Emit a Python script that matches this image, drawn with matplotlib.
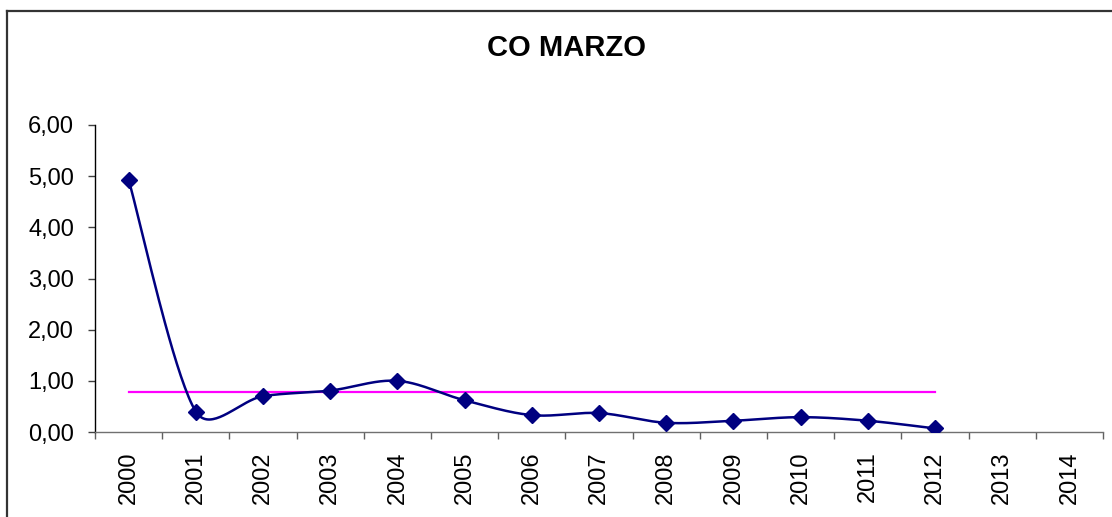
import numpy as np
import matplotlib
matplotlib.use("Agg")
import matplotlib.pyplot as plt
from matplotlib.lines import Line2D

# ---- data ----
years = ["2000", "2001", "2002", "2003", "2004", "2005", "2006", "2007",
         "2008", "2009", "2010", "2011", "2012", "2013", "2014"]
co_values = [4.93, 0.40, 0.70, 0.81, 1.00, 0.62, 0.33, 0.37, 0.18, 0.22, 0.29, 0.22, 0.07]
average = [0.78, 0.78, 0.78, 0.78, 0.78, 0.78, 0.78, 0.78, 0.78, 0.78, 0.78, 0.78, 0.78]
y_ticks = [0, 1, 2, 3, 4, 5, 6]
title = "CO MARZO"

plt.rcParams['font.family'] = ['Liberation Sans', 'DejaVu Sans']

fig = plt.figure(figsize=(11.12, 5.17), dpi=100)
ax = fig.add_axes([95 / 1112, 1 - 432 / 517, (1103 - 95) / 1112, (432 - 125) / 517])

navy = "#000080"
magenta = "#FF00FF"

ax.set_xlim(-0.5, len(years) - 0.5)
ax.set_ylim(0, 6)

x = np.arange(len(co_values))

# magenta average line
ax.plot(x, average, color=magenta, lw=1.6, zorder=2)

# smoothed (Excel-like Bezier) line computed in display space
fig.canvas.draw()
pts = ax.transData.transform(np.column_stack([x, co_values]))
n = len(pts)
curve = [pts[0]]
for i in range(n - 1):
    p0 = pts[i - 1] if i > 0 else pts[i]
    p1 = pts[i]
    p2 = pts[i + 1]
    p3 = pts[i + 2] if i + 2 < n else pts[i + 1]
    seg = np.linalg.norm(p2 - p1)
    c1 = (p2 - p0) / 6.0
    c2 = (p3 - p1) / 6.0
    cap = 0.4 * seg
    l1 = np.linalg.norm(c1)
    l2 = np.linalg.norm(c2)
    if l1 > cap:
        c1 = c1 * cap / l1
    if l2 > cap:
        c2 = c2 * cap / l2
    b1 = p1 + c1
    b2 = p2 - c2
    t = np.linspace(0, 1, 40)[1:, None]
    seg_pts = ((1 - t) ** 3) * p1 + 3 * ((1 - t) ** 2) * t * b1 + 3 * (1 - t) * t ** 2 * b2 + t ** 3 * p2
    curve.extend(seg_pts)
curve = ax.transData.inverted().transform(np.array(curve))
ax.plot(curve[:, 0], curve[:, 1], color=navy, lw=1.8, zorder=3)
ax.plot(x, co_values, linestyle="none", marker="D", markersize=8.5,
        color=navy, zorder=4)

# axes styling
for s in ["top", "right"]:
    ax.spines[s].set_visible(False)
ax.spines["left"].set_color("#000000")
ax.spines["bottom"].set_color("#707070")
ax.spines["left"].set_linewidth(1.0)
ax.spines["bottom"].set_linewidth(1.0)

ax.set_yticks(y_ticks)
ax.set_yticklabels([f"{v:.2f}".replace(".", ",") for v in y_ticks], fontsize=17)
ax.tick_params(axis="y", direction="out", length=5, width=1.0, color="#404040", pad=10)

ax.set_xticks(np.arange(-0.5, len(years), 1.0))
ax.set_xticklabels([])
ax.set_xticks(np.arange(len(years)), minor=True)
ax.set_xticklabels(years, minor=True, rotation=90, fontsize=17, va="top", ha="center")
ax.tick_params(axis="x", which="major", direction="out", length=5, width=1.0, color="#606060")
ax.tick_params(axis="x", which="minor", length=0, pad=14)

fig.text(566 / 1112, 1 - 47.5 / 517, title, ha="center", va="center",
         fontsize=21, fontweight="bold")

# outer chart border (left and top visible)
fig.add_artist(Line2D([7 / 1112, 7 / 1112], [0, 1 - 11 / 517], transform=fig.transFigure,
                      color="#333333", lw=1.6))
fig.add_artist(Line2D([7 / 1112, 1], [1 - 11 / 517, 1 - 11 / 517], transform=fig.transFigure,
                      color="#333333", lw=1.6))

fig.savefig("out.png", dpi=100)
